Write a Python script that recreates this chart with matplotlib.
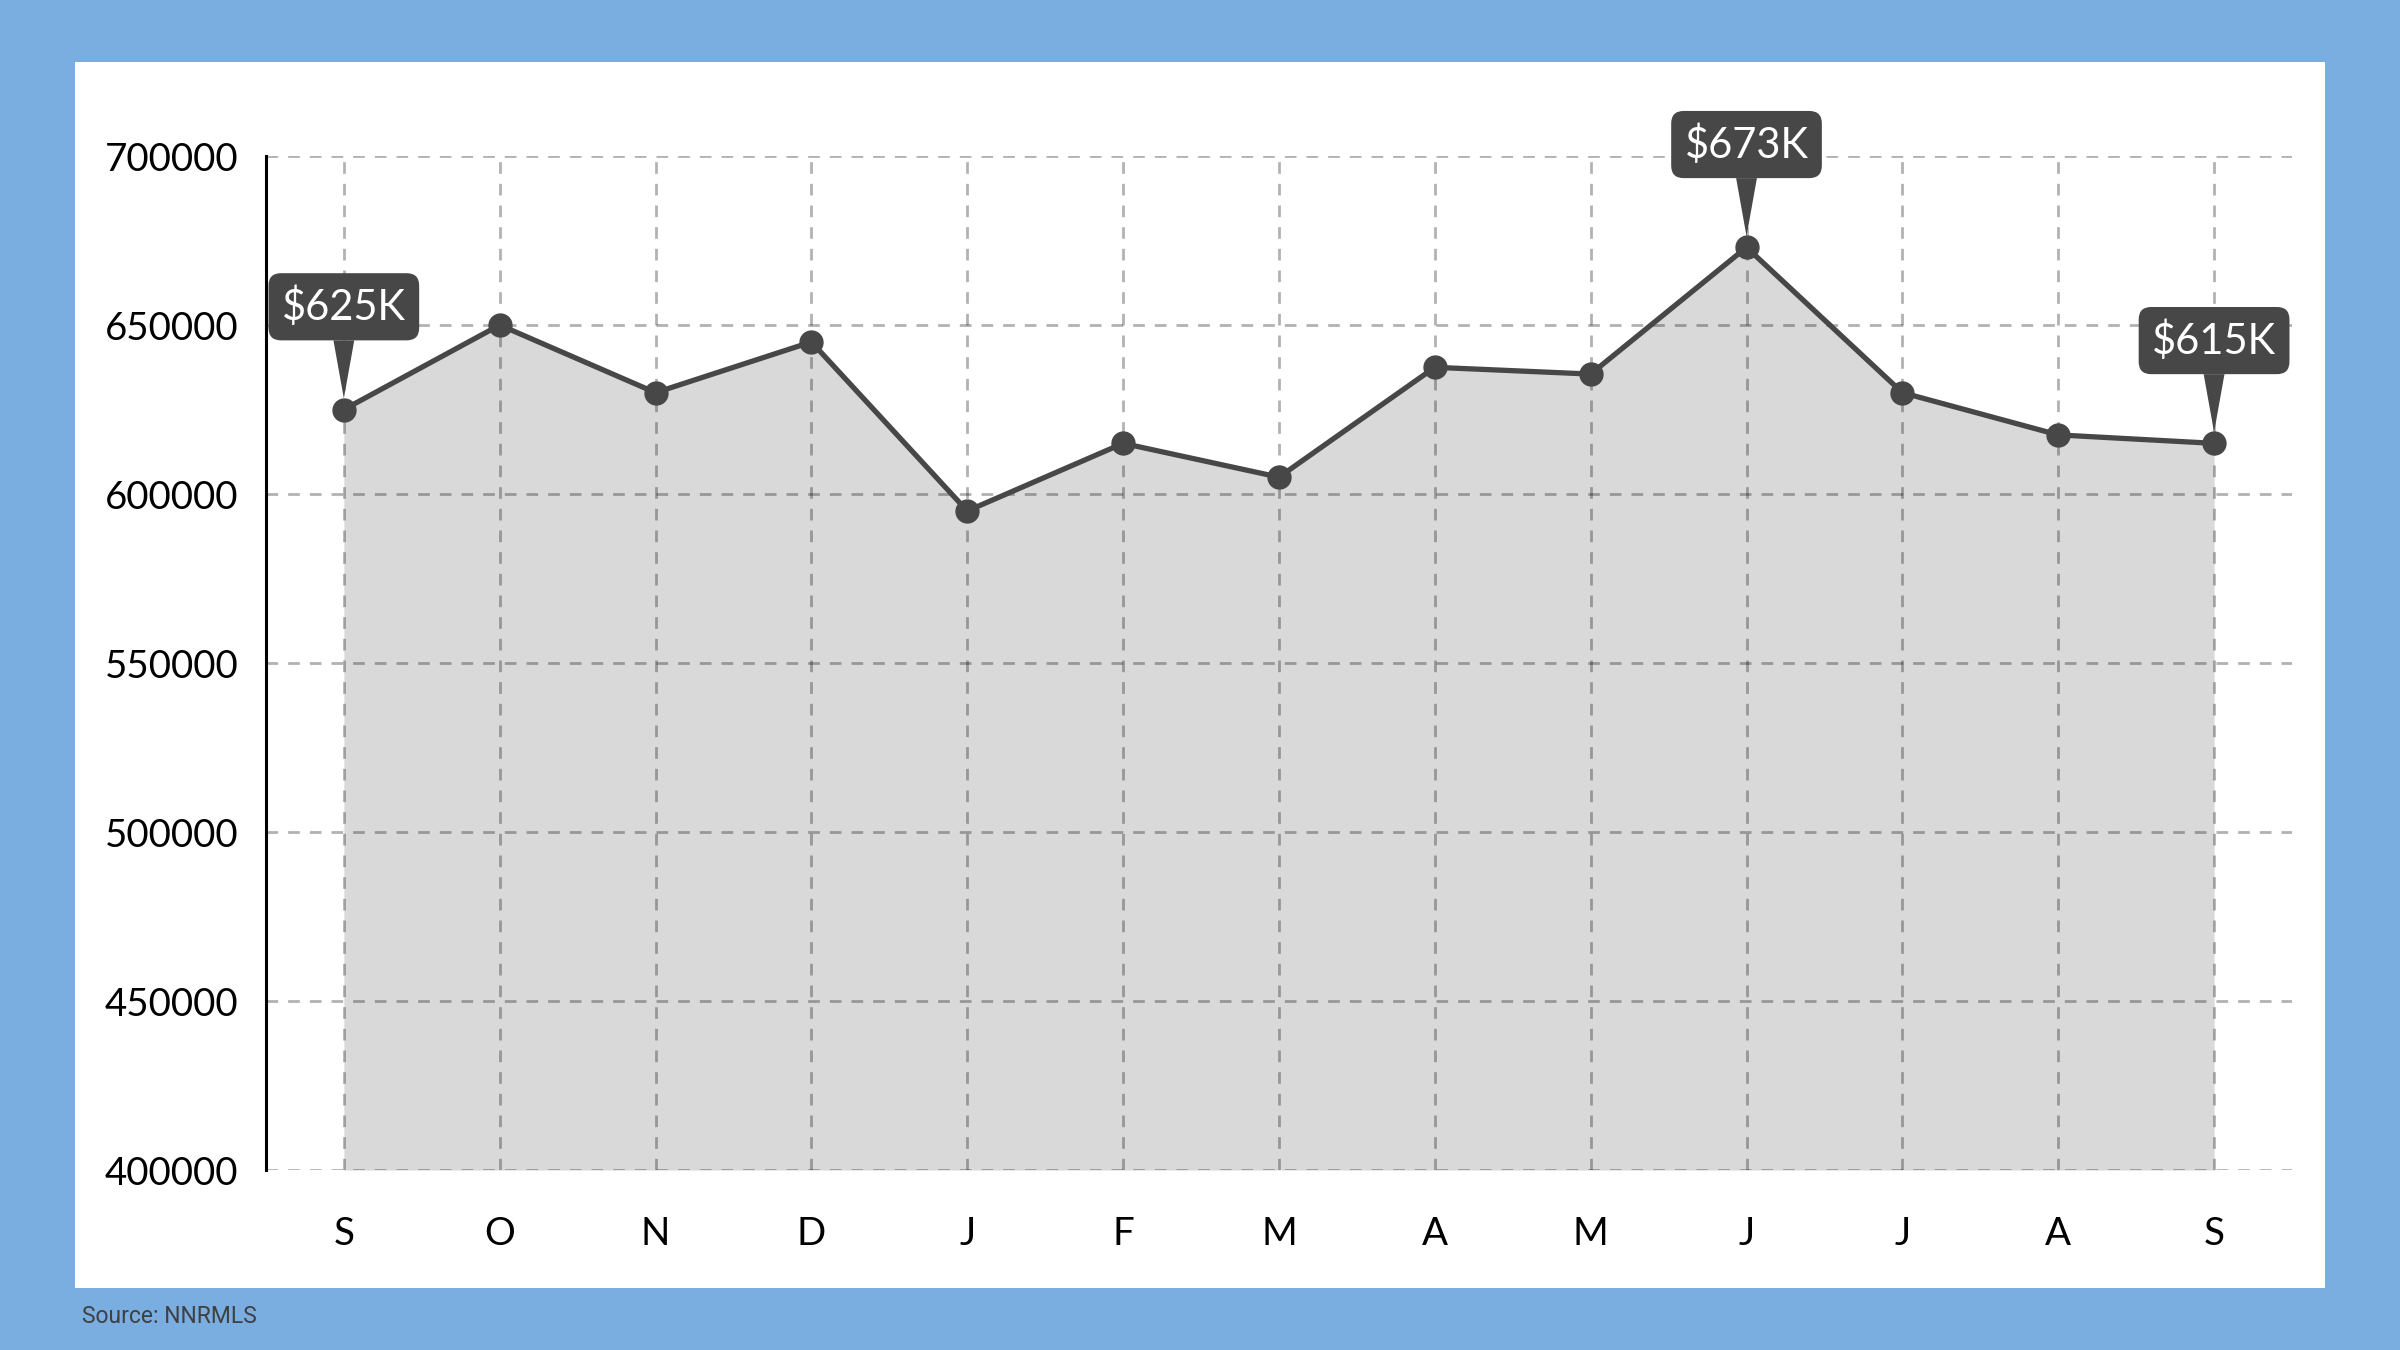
"""Median sales price line chart, Sep to Sep."""

import matplotlib
matplotlib.use("Agg")
import matplotlib.pyplot as plt
from matplotlib.patches import Rectangle

plt.rcParams["font.family"] = ["Lato", "DejaVu Sans"]

MONTHS = ["S", "O", "N", "D", "J", "F", "M", "A", "M", "J", "J", "A", "S"]
PRICES = [625000, 650000, 630000, 645000, 595000, 615000, 605000,
          637500, 635500, 673000, 630000, 617500, 615000]
Y_TICKS = [400000, 450000, 500000, 550000, 600000, 650000, 700000]
CALLOUT_IDX = [0, 9, 12]
CALLOUT_TEXT = [r"\$625K", r"\$673K", r"\$615K"]

BG = "#7AADE0"
DARK = "#474747"
FILL = "#D9D9D9"


def main() -> None:
    fig = plt.figure(figsize=(24, 13.5), dpi=100)
    fig.patch.set_facecolor(BG)
    panel = Rectangle((0.03125, 0.0459), 0.9375, 0.9081,
                      transform=fig.transFigure,
                      facecolor="white", edgecolor="none", zorder=-10)
    fig.add_artist(panel)

    ax = fig.add_axes([0.1108, 0.1333, 0.8442, 0.7511])
    ax.patch.set_alpha(0)
    x = list(range(len(MONTHS)))

    ax.fill_between(x, PRICES, Y_TICKS[0], color=FILL, lw=0, zorder=1)
    ax.plot(x, PRICES, color=DARK, lw=3.8, marker="o", markersize=16.5,
            zorder=2, solid_joinstyle="round")

    for i, txt in zip(CALLOUT_IDX, CALLOUT_TEXT):
        ax.annotate(txt, xy=(i, PRICES[i]), xytext=(0, 74),
                    textcoords="offset points", ha="center", va="center",
                    fontsize=30, color="white",
                    bbox=dict(boxstyle="round,pad=0.32,rounding_size=0.3",
                              fc=DARK, ec="none"),
                    arrowprops=dict(arrowstyle="wedge,tail_width=0.5",
                                    fc=DARK, ec="none", shrinkA=0, shrinkB=8),
                    zorder=4)

    ax.set_xlim(-0.5, len(MONTHS) - 0.5)
    ax.set_ylim(Y_TICKS[0], Y_TICKS[-1])
    ax.set_xticks(x)
    ax.set_xticklabels(MONTHS)
    ax.set_yticks(Y_TICKS)
    ax.set_yticklabels([str(v) for v in Y_TICKS])

    ax.grid(True, color="black", alpha=0.3, lw=2, linestyle=(0, (4.2, 3.6)))
    for side in ("top", "right", "bottom"):
        ax.spines[side].set_visible(False)
    ax.spines["left"].set_color("black")
    ax.spines["left"].set_linewidth(2.2)

    ax.tick_params(axis="both", length=0, labelsize=27.7, colors="black")
    ax.tick_params(axis="y", pad=20)
    ax.tick_params(axis="x", pad=33)

    fig.text(0.0342, 0.02, "Source: NNRMLS", fontsize=16.5, color="#404040",
             family="Roboto", va="baseline")

    fig.savefig("out.png", dpi=100, facecolor=fig.get_facecolor())
    plt.close(fig)


if __name__ == "__main__":
    main()
